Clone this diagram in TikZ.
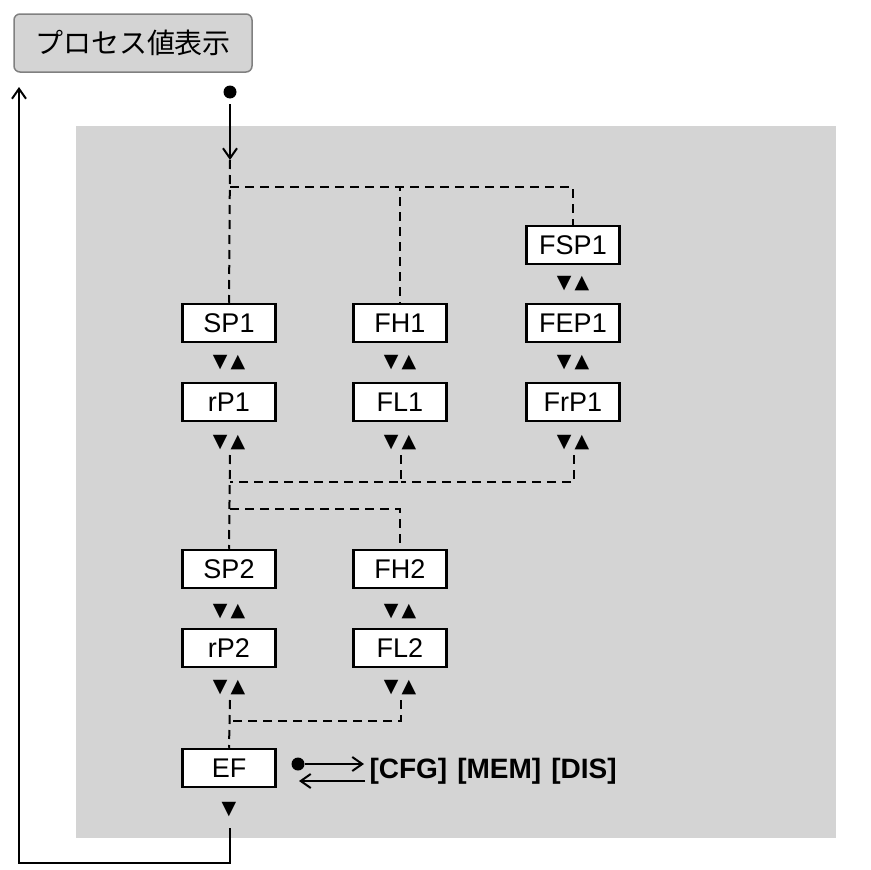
\documentclass[tikz,border=0pt]{standalone}
\usepackage{fontspec}
\setmainfont{Liberation Sans}
\newfontfamily\cjk{Noto Sans CJK JP}
\newfontfamily\symb{DejaVu Sans}
\usepackage{tikz}
\usetikzlibrary{arrows.meta}
\tikzset{
	param/.style = {draw, line width=2.5pt, fill=white, minimum width=93pt,
		minimum height=38pt, inner sep=0pt, font=\fontsize{27}{30}\selectfont},
	updn/.style  = {font=\symb\fontsize{19}{20}\selectfont},
	link/.style  = {line width=2pt, dash pattern=on 9pt off 6pt},
	flow/.style  = {line width=2pt, -{Straight Barb[length=10pt,width=14pt,line width=2pt]}}
}
\newcommand{\updown}{▼\,▲}

\begin{document}
\begin{tikzpicture}[x=1pt, y=-1pt]
		\useasboundingbox (0,0) rectangle (871,870);
		\fill[gray!34] (76,126) rectangle (836,838);
		\node[draw=gray, line width=1.5pt, fill=gray!34, rounded corners=6pt, minimum width=238pt,
			minimum height=58pt, font=\cjk\fontsize{28}{30}\selectfont] (pv) at (133,43) {プロセス値表示};
		
		\draw
		node at (229,323) [param] (sp1) {SP1}
		node at (400,323) [param] (fh1) {FH1}
		node at (573,245) [param] (fsp1) {FSP1}
		node at (573,323) [param] (fep1) {FEP1}
		node at (229,402) [param] (rp1) {rP1}
		node at (400,402) [param] (fl1) {FL1}
		node at (573,402) [param] (frp1) {FrP1}
		node at (229,569) [param] (sp2) {SP2}
		node at (400,569) [param] (fh2) {FH2}
		node at (229,648) [param] (rp2) {rP2}
		node at (400,648) [param] (fl2) {FL2}
		node at (229,768) [param] (ef) {EF};
		
		% up/down keys
		\foreach \x/\y in {573/284, 229/363, 400/363, 573/363, 229/443, 400/443, 573/443,
			229/612, 400/612, 229/688, 400/688}
			\node[updn] at (\x,\y) {\updown};
		\node[updn] (dn) at (229,810) {▼};
		
		% entry
		\fill (230,92) circle (6.5pt);
		\coordinate (in) at (230,104);
		\coordinate (j1) at (230,160);
		\draw[flow] (in) -- (j1);
		\draw[link] (j1) -- (sp1.north);
		\draw[link] (230,187) -| (fh1.north);
		\draw[link] (230,187) -| (fsp1.north);
		
		% lower branches
		\draw[link] (230,455) -- (sp2.north);
		\draw[link] (401,455) |- (230,482);
		\draw[link] (574,455) |- (401,482);
		\draw[link] (230,509) -| (fh2.north);
		\draw[link] (230,700) -- (ef.north);
		\draw[link] (401,700) |- (230,721);
		
		% back to process value
		\coordinate (b1) at (230,828);
		\coordinate (b2) at (19,863);
		\draw[flow] (b1) |- (b2) -- (19,87);
		
		% menus
		\fill (298,764) circle (6.5pt);
		\draw[flow] (305,764) -- (364,764);
		\draw[flow] (365,781) -- (299,781);
		\node[anchor=west, font=\bfseries\fontsize{28}{32}\selectfont] (menu) at (366,771) {[CFG]\hspace{10pt}[MEM]\hspace{10pt}[DIS]};
		
	\end{tikzpicture}
\end{document}
